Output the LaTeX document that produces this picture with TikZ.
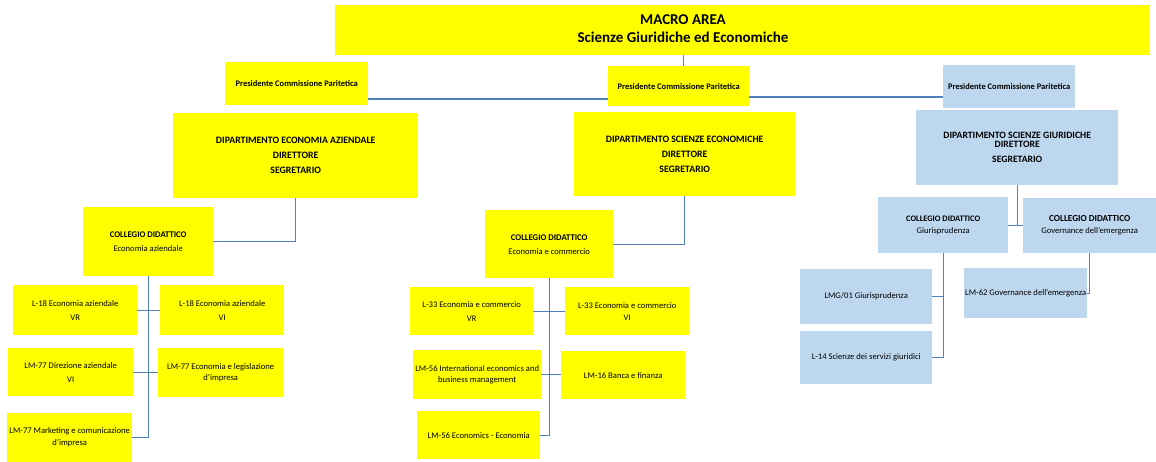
\documentclass[tikz,border=0pt]{standalone}
\usepackage{fontspec}
\setmainfont{Carlito}
\definecolor{yel}{RGB}{255,255,0}
\definecolor{lblue}{RGB}{189,215,238}
\definecolor{lnk}{RGB}{79,129,189}
\begin{document}
\begin{tikzpicture}[x=1pt,y=-1pt,
 yb/.style={fill=yel, inner sep=1pt, align=center, anchor=north west},
 bb/.style={fill=lblue, inner sep=1pt, align=center, anchor=north west},
 link/.style={draw=lnk, line width=1.3pt},
 sz/.style 2 args={minimum width=#1pt, minimum height=#2pt},
 body/.style={font=\fontsize{8.6}{14}\selectfont},
 hd/.style={font=\bfseries\fontsize{9.8}{15}\selectfont},
 pres/.style={font=\bfseries\fontsize{8.5}{9}\selectfont}]
\useasboundingbox[fill=white] (0,0) rectangle (1156,462);

% top
\node[yb, sz={815}{50}] (macro) at (335,5) {};
\node[align=center, font=\bfseries\fontsize{15}{18}\selectfont] (macrotxt) at (683,29) {MACRO AREA\\Scienze Giuridiche ed Economiche};

\node[yb, sz={143}{43}, pres] (pl) at (225,62) {Presidente Commissione Paritetica};
\node[yb, sz={141}{40}, pres] (pm) at (608,66) {Presidente Commissione Paritetica};
\node[bb, sz={132}{43}, pres] (pr) at (943,65) {Presidente Commissione Paritetica};

% departments
\node[yb, sz={245}{85}, hd] (deA) at (173,113) {DIPARTIMENTO ECONOMIA AZIENDALE\\DIRETTORE\\SEGRETARIO};
\node[yb, sz={221}{84}, hd] (deS) at (574,112) {DIPARTIMENTO SCIENZE ECONOMICHE\\DIRETTORE\\SEGRETARIO};
\node[bb, sz={202}{75}, font=\bfseries\fontsize{9.7}{12}\selectfont] (deG) at (916,110) {DIPARTIMENTO SCIENZE GIURIDICHE\\[-3pt]DIRETTORE\\[3pt]SEGRETARIO};

% collegi
\node[yb, sz={130}{69}, body] (colA) at (83,207) {{\bfseries\fontsize{8.7}{9}\selectfont COLLEGIO DIDATTICO}\\Economia aziendale};
\node[yb, sz={128}{68}, body] (colE) at (485,210) {{\bfseries\fontsize{8.7}{9}\selectfont COLLEGIO DIDATTICO}\\Economia e commercio};
\node[bb, sz={130}{56}, font=\fontsize{8.6}{12}\selectfont] (colG) at (878,197) {{\bfseries\fontsize{8.4}{8}\selectfont COLLEGIO DIDATTICO}\\Giurisprudenza};
\node[bb, sz={133}{55}, font=\fontsize{8.6}{12}\selectfont] (colV) at (1023,198) {{\bfseries\fontsize{9.2}{8}\selectfont COLLEGIO DIDATTICO}\\Governance dell'emergenza};

% left courses
\node[yb, sz={124}{50}, body] (a1) at (13,285) {L-18 Economia aziendale\\VR};
\node[yb, sz={124}{50}, body] (a2) at (160,285) {L-18 Economia aziendale\\VI};
\node[yb, sz={125}{48}, body] (a3) at (8,348) {LM-77 Direzione aziendale\\VI};
\node[yb, sz={125}{49}, font=\fontsize{8.6}{11}\selectfont] (a4) at (158,348) {LM-77 Economia e legislazione\\d'impresa};
\node[yb, sz={125}{49}, font=\fontsize{8.6}{12}\selectfont] (a5) at (7,413) {LM-77 Marketing e comunicazione\\d'impresa};

% middle courses
\node[yb, sz={123}{48}, body] (b1) at (410,287) {L-33 Economia e commercio\\VR};
\node[yb, sz={124}{48}, font=\fontsize{8.6}{12}\selectfont] (b2) at (565,287) {L-33 Economia e commercio\\VI};
\node[yb, sz={128}{49}, font=\fontsize{8.6}{10.5}\selectfont] (b3) at (413,350) {LM-56 International economics and\\business management};
\node[yb, sz={124}{48}, body] (b4) at (561,351) {LM-16 Banca e finanza};
\node[yb, sz={123}{48}, body] (b5) at (417,411) {LM-56 Economics - Economia};

% right courses
\node[bb, sz={132}{55}, body] (c1) at (800,269) {LMG/01 Giurisprudenza};
\node[bb, sz={132}{53}, body] (c2) at (800,331) {L-14 Scienze dei servizi giuridici};
\node[bb, sz={122}{50}, body] (c3) at (964,268) {LM-62 Governance dell'emergenza};

% connectors
\coordinate (mtop) at ([xshift=5pt]pm.north);
\coordinate (h1) at (0,99);
\coordinate (h2) at (0,97);
\draw[link] (mtop) -- (mtop |- macro.south);
\draw[link] (pl.east |- h1) -- (pm.west |- h1);
\draw[link] (pm.east |- h2) -- (pr.west |- h2);

\draw[link] (deA.south) |- (colA.east);
\draw[link] (deS.south) |- (colE.east);
\draw[link] (deG.south) -- (deG.south |- colG.east);
\draw[link] (colG.east) -- (colG.east -| colV.west);

\draw[link] (colA.south) |- (a5.east);
\draw[link] (a1.east) -- (a1.east -| a2.west);
\draw[link] (a3.east) -- (a3.east -| a4.west);

\draw[link] (colE.south) |- (b5.east);
\draw[link] (b1.east) -- (b1.east -| b2.west);
\draw[link] (b3.east) -- (b3.east -| b4.west);

\draw[link] (colG.south) |- (c2.east);
\draw[link] (c1.east) -- (c1.east -| colG.south);
\draw[link] (colV.south) |- (c3.east);
\end{tikzpicture}
\end{document}
